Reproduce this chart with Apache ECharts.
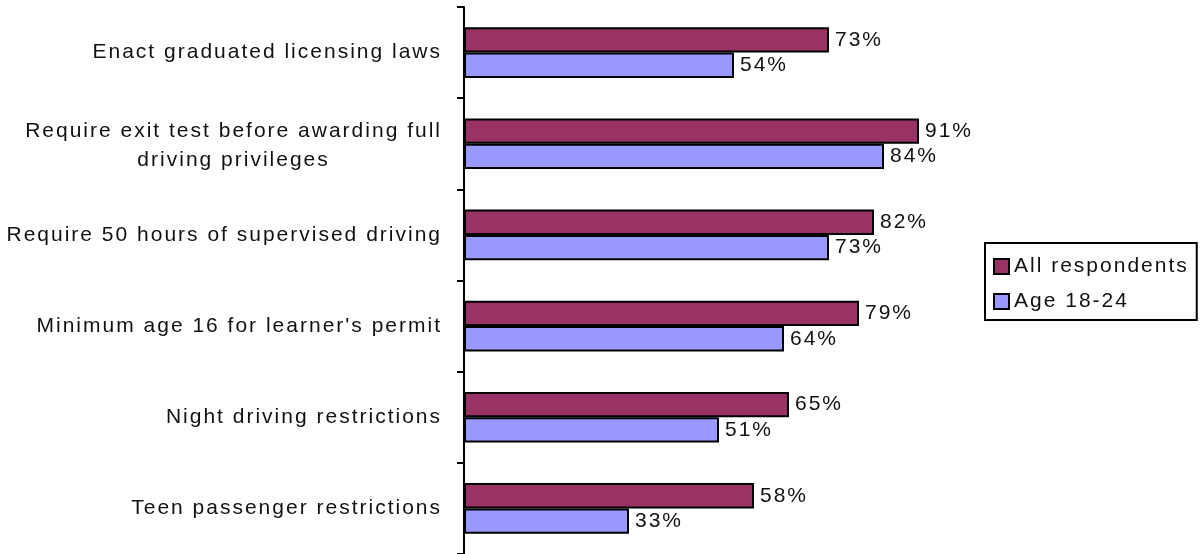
<!DOCTYPE html>
<html>
<head>
<meta charset="utf-8">
<script src="https://cdn.jsdelivr.net/npm/echarts@6/dist/echarts.min.js"></script>
<style>
  html, body { margin: 0; padding: 0; background: #fff; }
  #chart { width: 1200px; height: 554px; }
</style>
</head>
<body>
<div id="chart"></div>
<script>
var categories = [
  'Enact graduated licensing laws',
  'Require exit test before awarding full\ndriving privileges',
  'Require 50 hours of supervised driving',
  "Minimum age 16 for learner's permit",
  'Night driving restrictions',
  'Teen passenger restrictions'
];
var seriesNames = ['All respondents', 'Age 18-24'];
var allRespondents = [73, 91, 82, 79, 65, 58];
var age18to24 = [54, 84, 73, 64, 51, 33];

// the old chart text is spaced out a bit, canvas can do that natively
(function () {
  var proto = CanvasRenderingContext2D.prototype;
  var fill = proto.fillText, measure = proto.measureText;
  proto.fillText = function () { this.letterSpacing = '2px'; return fill.apply(this, arguments); };
  proto.measureText = function () { this.letterSpacing = '2px'; return measure.apply(this, arguments); };
})();

var font = "'Liberation Sans', Arial, sans-serif";
var textColor = '#111';
var fontSize = 21;

var chart = echarts.init(document.getElementById('chart'));
chart.setOption({
  animation: false,
  color: ['#993366', '#9999ff'],
  textStyle: { fontFamily: font },
  grid: {
    left: 464,
    top: 7,
    width: 500,
    height: 548
  },
  legend: {
    orient: 'vertical',
    left: 985,
    top: 243,
    padding: [12, 8, 7, 8],
    itemWidth: 15,
    itemHeight: 15,
    itemGap: 12,
    borderColor: '#000',
    borderWidth: 2,
    icon: 'rect',
    data: seriesNames,
    textStyle: { color: textColor, fontSize: fontSize, fontFamily: font }
  },
  xAxis: {
    type: 'value',
    min: 0,
    max: 100,
    show: false
  },
  yAxis: {
    type: 'category',
    inverse: true,
    data: categories,
    axisLine: { show: true, lineStyle: { color: '#000', width: 2 } },
    axisTick: { show: true, length: 7, lineStyle: { color: '#000', width: 2 } },
    axisLabel: {
      color: textColor,
      fontSize: fontSize,
      fontFamily: font,
      margin: 22,
      formatter: function (value) {
        if (value.indexOf('\n') < 0) return value;
        return value.split('\n').map(function (s) { return '{c|' + s + '}'; }).join('\n');
      },
      rich: {
        c: { align: 'center', fontSize: fontSize, lineHeight: 29, color: textColor, fontFamily: font, padding: [3, 0, 0, 0] }
      }
    }
  },
  series: [
    {
      name: seriesNames[0],
      type: 'bar',
      data: allRespondents,
      barGap: 0,
      barCategoryGap: '44.5%',
      itemStyle: { borderColor: '#000', borderWidth: 2 },
      label: { show: true, position: 'right', distance: 6, formatter: '{c}%', color: textColor, fontSize: fontSize, fontFamily: font }
    },
    {
      name: seriesNames[1],
      type: 'bar',
      data: age18to24,
      barGap: 0,
      barCategoryGap: '44.5%',
      itemStyle: { borderColor: '#000', borderWidth: 2 },
      label: { show: true, position: 'right', distance: 6, formatter: '{c}%', color: textColor, fontSize: fontSize, fontFamily: font }
    }
  ]
});
</script>
</body>
</html>
